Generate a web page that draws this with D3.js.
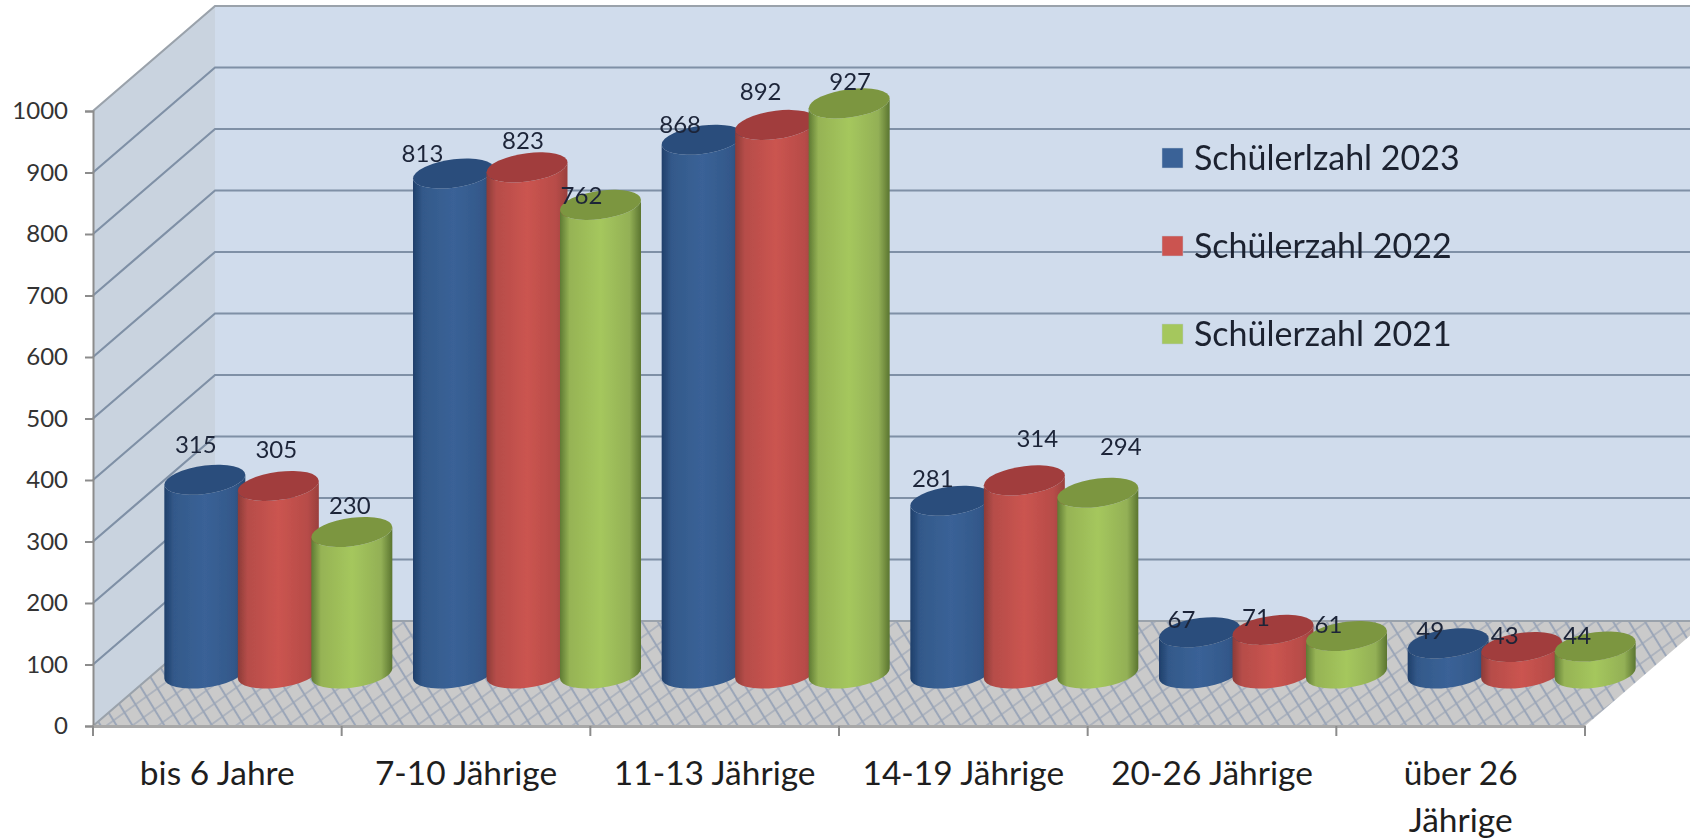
<!DOCTYPE html>
<html>
<head>
<meta charset="utf-8">
<script src="https://cdn.jsdelivr.net/npm/d3@7"></script>
<style>
  html, body { margin: 0; padding: 0; background: #fff; overflow: hidden; }
  svg { display: block; font-family: Lato, "Open Sans", sans-serif; }
</style>
</head>
<body>
<svg class="cylinder-svg" width="1690" height="840"></svg>
<script>
const categories = ["bis 6 Jahre", "7-10 Jährige", "11-13 Jährige", "14-19 Jährige", "20-26 Jährige", "über 26 Jährige"];
const seriesNames = ["Schülerlzahl 2023", "Schülerzahl 2022", "Schülerzahl 2021"];
const values2023 = [315, 813, 868, 281, 67, 49];
const values2022 = [305, 823, 892, 314, 71, 43];
const values2021 = [230, 762, 927, 294, 61, 44];
const yTicks = [0, 100, 200, 300, 400, 500, 600, 700, 800, 900, 1000];

const seriesValues = [values2023, values2022, values2021];

// the labels were dragged around by hand in the original, so each has its own nudge
const labelNudge = [
  [[-9, -33], [-31, -18], [-22, -13], [-18, -20], [-18, -10], [-18, -10]],
  [[-2, -34], [-4, -24], [-15, -31], [13, -39], [-17, -10], [-17, -9]],
  [[-2, -24], [-19, -7], [1, -19], [23, -44], [-18, -9], [-18, -9]],
];

const seriesColors = [
  { top: "#2b4d7b", edgeL: "#1f3f6a", shoulder: "#33598a", mid: "#3a6297", shoulderR: "#33588a", edgeR: "#244670" },
  { top: "#a13e3c", edgeL: "#8c3b38", shoulder: "#b64d49", mid: "#cb5450", shoulderR: "#b74c48", edgeR: "#9a403d" },
  { top: "#7c9640", edgeL: "#5e7a33", shoulder: "#96b355", mid: "#a5c75d", shoulderR: "#93b056", edgeR: "#5b7530" },
];

const depth = { dx: 122, dy: -105 };
const plot = { left: 93, right: 1585, bottom: 726, top: 111 };
const cylinder = { rx: 40.5, ry: 14.2, skew: -7 };
const SVG_SELECTOR = "cylinder-svg";

const svg = d3.select(`.${SVG_SELECTOR}`);
const defs = svg.append("defs");

const xScale = d3.scaleBand().domain(categories).range([plot.left, plot.right]);
const yScale = d3.scaleLinear().domain([0, 1000]).range([plot.bottom, plot.top]);
const seriesScale = d3
  .scaleBand()
  .domain(d3.range(seriesNames.length))
  .range([-110.25, 110.25]);

const backX = plot.left + depth.dx;
const backY = (v) => yScale(v) + depth.dy;
const polygon = (pts) => "M" + pts.map((p) => p.join(",")).join("L") + "Z";

// the reference is a slightly soft screenshot
defs.append("filter")
  .attr("id", "soft")
  .append("feGaussianBlur")
  .attr("stdDeviation", 0.7);

// gradients for the round shading
seriesColors.forEach((c, i) => {
  const grad = defs
    .append("linearGradient")
    .attr("id", `body-${i}`)
    .attr("x1", 0)
    .attr("x2", 1)
    .attr("y1", 0)
    .attr("y2", 0);
  [
    [0, c.edgeL],
    [0.12, c.shoulder],
    [0.5, c.mid],
    [0.86, c.shoulderR],
    [1, c.edgeR],
  ].forEach((s) => {
    grad.append("stop").attr("offset", s[0]).attr("stop-color", s[1]);
  });
});

// floor texture
const pattern = defs
  .append("pattern")
  .attr("id", "floor-grid")
  .attr("patternUnits", "userSpaceOnUse")
  .attr("width", 100)
  .attr("height", 100)
  .attr("patternTransform", "matrix(0.11,-0.08,0.08,0.13,93,726)");
pattern.append("rect").attr("width", 100).attr("height", 100).attr("fill", "#cacaca");
pattern.append("line").attr("x1", 0).attr("x2", 100).attr("y1", 50).attr("y2", 50)
  .attr("stroke", "#a9b0bc").attr("stroke-width", 11);
pattern.append("line").attr("x1", 50).attr("x2", 50).attr("y1", 0).attr("y2", 100)
  .attr("stroke", "#9ba6b8").attr("stroke-width", 15);

// walls
svg.append("path")
  .attr("fill", "#c9d3df")
  .attr("d", polygon([
    [plot.left, plot.bottom],
    [plot.left, plot.top],
    [backX, plot.top + depth.dy],
    [backX, plot.bottom + depth.dy],
  ]));
svg.append("rect")
  .attr("x", backX)
  .attr("y", plot.top + depth.dy)
  .attr("width", 1690 - backX)
  .attr("height", plot.bottom - plot.top)
  .attr("fill", "#d0dcec");

// floor
svg.append("path")
  .attr("fill", "url(#floor-grid)")
  .attr("filter", "url(#soft)")
  .attr("d", polygon([
    [plot.left, plot.bottom],
    [plot.right, plot.bottom],
    [plot.right + depth.dx, plot.bottom + depth.dy],
    [backX, plot.bottom + depth.dy],
  ]));

// gridlines on both walls
const grid = svg.append("g").attr("fill", "none").attr("stroke-width", 2.2).attr("filter", "url(#soft)");
yTicks.forEach((v) => {
  const stroke = v === 0 || v === 1000 ? "#9aa2ab" : "#7f90a6";
  grid.append("path")
    .attr("stroke", stroke)
    .attr("d", `M${plot.left},${yScale(v)}L${backX},${backY(v)}H1690`);
});

// axes
const yAxis = svg.append("g")
  .attr("class", "y-axis")
  .attr("transform", `translate(${plot.left},0)`)
  .call(d3.axisLeft(yScale).tickValues(yTicks).tickSize(8).tickPadding(17).tickFormat(d3.format("d")));
yAxis.selectAll("line, path").attr("stroke", "#8c8c8c").attr("stroke-width", 2);
yAxis.selectAll("text").attr("font-size", 24).attr("font-family", "Lato").attr("fill", "#333");

const xAxis = svg.append("g")
  .attr("class", "x-axis")
  .attr("transform", `translate(0,${plot.bottom})`)
  .call(d3.axisBottom(xScale).tickSize(0).tickSizeOuter(0).tickPadding(35));
xAxis.select("path").attr("stroke", "#a8a8a8").attr("stroke-width", 3);
xAxis.selectAll("text")
  .attr("font-size", 33.5)
  .attr("font-family", "Lato")
  .attr("fill", "#1e1e1e")
  .each(function (d) {
    // last category wraps on two lines
    if (d !== "über 26 Jährige") return;
    const t = d3.select(this).text(null);
    t.append("tspan").attr("x", 0).text("über 26");
    t.append("tspan").attr("x", 0).attr("dy", 47).text("Jährige");
  });
xAxis.selectAll(".boundary")
  .data(d3.range(categories.length + 1))
  .join("line")
  .attr("class", "boundary")
  .attr("x1", (i) => plot.left + i * xScale.step())
  .attr("x2", (i) => plot.left + i * xScale.step())
  .attr("y1", 0)
  .attr("y2", 10)
  .attr("stroke", "#8c8c8c")
  .attr("stroke-width", 2);

// cylinders, painted left to right so each one covers its left neighbour
const centerX = (ci, si) =>
  xScale(categories[ci]) + xScale.bandwidth() / 2 + depth.dx / 2 + seriesScale(si) + seriesScale.bandwidth() / 2;
const topY = (v) => yScale(v) + depth.dy / 2;

const { rx, ry, skew } = cylinder;
const bars = svg.append("g").attr("class", "bars").attr("filter", "url(#soft)");
categories.forEach((cat, ci) => {
  seriesValues.forEach((vals, si) => {
    const v = vals[ci];
    const h = yScale(0) - yScale(v);
    const g = bars.append("g")
      .attr("transform", `translate(${centerX(ci, si)},${topY(v)}) skewY(${skew})`);
    g.append("path")
      .attr("fill", `url(#body-${si})`)
      .attr("d", `M${-rx},0V${h}A${rx},${ry} 0 0 0 ${rx},${h}V0A${rx},${ry} 0 0 1 ${-rx},0Z`);
    g.append("ellipse")
      .attr("rx", rx)
      .attr("ry", ry)
      .attr("fill", seriesColors[si].top);
  });
});

// value labels
const labels = svg.append("g")
  .attr("font-size", 24)
  .attr("font-family", "Lato")
  .attr("fill", "#1c2438")
  .attr("text-anchor", "middle")
  .attr("dominant-baseline", "middle");
seriesValues.forEach((vals, si) => {
  vals.forEach((v, ci) => {
    labels.append("text")
      .attr("x", centerX(ci, si) + labelNudge[si][ci][0])
      .attr("y", topY(v) + labelNudge[si][ci][1])
      .text(v);
  });
});

// legend
const legendY = d3.scalePoint().domain(seriesNames).range([158, 334]);
const legend = svg.append("g");
seriesNames.forEach((name, i) => {
  legend.append("rect")
    .attr("x", 1162)
    .attr("y", legendY(name) - 10)
    .attr("width", 21)
    .attr("height", 20)
    .attr("fill", seriesColors[i].mid)
    .attr("stroke", "#b9c5d8")
    .attr("stroke-width", 0.5);
  legend.append("text")
    .attr("x", 1194)
    .attr("y", legendY(name) + 12)
    .attr("font-size", 34)
    .attr("font-family", "Lato")
    .attr("fill", "#1c2230")
    .text(name);
});
</script>
</body>
</html>
